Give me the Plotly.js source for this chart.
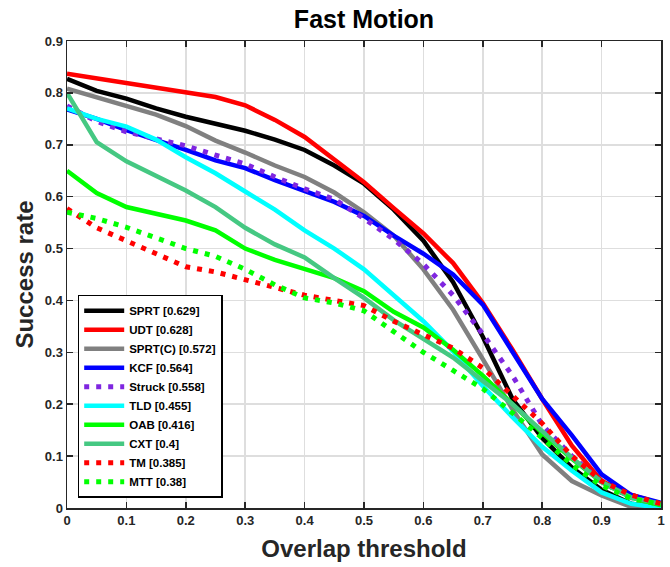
<!DOCTYPE html>
<html>
<head>
<meta charset="utf-8">
<script src="https://cdn.plot.ly/plotly-3.0.1.min.js"></script>
<style>
  html, body { margin: 0; padding: 0; background: #ffffff; }
  #chart { width: 670px; height: 567px; }
</style>
</head>
<body>
<div id="chart"></div>
<script>
// Overlap thresholds
const thresholds = [0, 0.05, 0.1, 0.15, 0.2, 0.25, 0.3, 0.35, 0.4, 0.45, 0.5,
                    0.55, 0.6, 0.65, 0.7, 0.75, 0.8, 0.85, 0.9, 0.95, 1.0];

// Tracker names (legend labels)
const trackerNames = ['SPRT [0.629]', 'UDT [0.628]', 'SPRT(C) [0.572]', 'KCF [0.564]',
                      'Struck [0.558]', 'TLD [0.455]', 'OAB [0.416]', 'CXT [0.4]',
                      'TM [0.385]', 'MTT [0.38]'];

// Success rates
const sprt   = [0.827, 0.804, 0.789, 0.770, 0.754, 0.740, 0.727, 0.710, 0.690, 0.660, 0.625,
                0.575, 0.515, 0.435, 0.330, 0.210, 0.135, 0.078, 0.035, 0.008, 0.000];
const udt    = [0.837, 0.828, 0.820, 0.811, 0.803, 0.792, 0.776, 0.748, 0.715, 0.672, 0.628,
                0.578, 0.529, 0.472, 0.395, 0.305, 0.210, 0.120, 0.052, 0.025, 0.008];
const sprtc  = [0.808, 0.792, 0.776, 0.758, 0.736, 0.708, 0.685, 0.660, 0.638, 0.608, 0.570,
                0.525, 0.460, 0.382, 0.287, 0.190, 0.103, 0.052, 0.024, 0.002, 0.000];
const kcf    = [0.768, 0.750, 0.728, 0.710, 0.690, 0.670, 0.655, 0.632, 0.612, 0.590, 0.563,
                0.525, 0.490, 0.450, 0.392, 0.300, 0.210, 0.140, 0.065, 0.025, 0.010];
const struck = [0.775, 0.745, 0.725, 0.712, 0.698, 0.680, 0.663, 0.638, 0.615, 0.595, 0.558,
                0.518, 0.470, 0.410, 0.335, 0.255, 0.160, 0.100, 0.050, 0.020, 0.005];
const tld    = [0.770, 0.750, 0.735, 0.710, 0.676, 0.645, 0.610, 0.575, 0.535, 0.500, 0.460,
                0.410, 0.360, 0.302, 0.235, 0.175, 0.118, 0.072, 0.030, 0.008, 0.000];
const oab    = [0.650, 0.607, 0.580, 0.568, 0.554, 0.535, 0.500, 0.478, 0.460, 0.443, 0.418,
                0.378, 0.348, 0.305, 0.255, 0.200, 0.145, 0.095, 0.050, 0.020, 0.005];
const cxt    = [0.800, 0.705, 0.668, 0.640, 0.612, 0.580, 0.540, 0.508, 0.483, 0.443, 0.405,
                0.362, 0.325, 0.290, 0.245, 0.200, 0.148, 0.097, 0.050, 0.020, 0.008];
const tm     = [0.577, 0.540, 0.515, 0.490, 0.465, 0.455, 0.440, 0.423, 0.410, 0.400, 0.390,
                0.360, 0.335, 0.308, 0.270, 0.215, 0.163, 0.100, 0.052, 0.025, 0.008];
const mtt    = [0.570, 0.558, 0.541, 0.520, 0.500, 0.485, 0.460, 0.430, 0.405, 0.395, 0.380,
                0.340, 0.300, 0.265, 0.230, 0.183, 0.135, 0.083, 0.043, 0.018, 0.007];

const seriesValues = [sprt, udt, sprtc, kcf, struck, tld, oab, cxt, tm, mtt];
const seriesColors = ['#000000', '#ff0000', '#808080', '#0000ff', '#7f26e0',
                      '#00ffff', '#00ff00', '#45c882', '#ff0000', '#00ff00'];
const seriesDash   = ['solid', 'solid', 'solid', 'solid', '5px,7px',
                      'solid', 'solid', 'solid', '5px,7px', '5px,7px'];

const xTickVals = [0, 0.1, 0.2, 0.3, 0.4, 0.5, 0.6, 0.7, 0.8, 0.9, 1];
const xTickText = ['0', '0.1', '0.2', '0.3', '0.4', '0.5', '0.6', '0.7', '0.8', '0.9', '1'];
const yTickVals = [0, 0.1, 0.2, 0.3, 0.4, 0.5, 0.6, 0.7, 0.8, 0.9];
const yTickText = ['0', '0.1', '0.2', '0.3', '0.4', '0.5', '0.6', '0.7', '0.8', '0.9'];

const traces = seriesValues.map((vals, i) => ({
  type: 'scatter',
  mode: 'lines',
  x: thresholds,
  y: vals,
  name: trackerNames[i],
  line: { color: seriesColors[i], width: seriesDash[i] === 'solid' ? 4.5 : 5, dash: seriesDash[i] },
  hoverinfo: 'skip'
}));

const axisColor = '#262626';
const fontFam = 'Arial, "Liberation Sans", Helvetica, sans-serif';

const layout = {
  width: 670,
  height: 567,
  margin: { l: 67, r: 9, t: 41, b: 59, pad: 0 },
  paper_bgcolor: '#ffffff',
  plot_bgcolor: '#ffffff',
  font: { family: fontFam, color: axisColor },
  title: {
    text: 'Fast Motion',
    font: { family: fontFam, size: 25, weight: 'bold', color: '#000000' },
    xref: 'paper', x: 0.5, xanchor: 'center',
    yref: 'container', y: 1 - 19 / 567, yanchor: 'middle'
  },
  xaxis: {
    range: [0, 1],
    tickvals: xTickVals,
    ticktext: xTickText,
    ticks: 'inside',
    ticklen: 6,
    tickwidth: 1.5,
    tickcolor: axisColor,
    showline: true,
    linecolor: axisColor,
    linewidth: 1.5,
    mirror: 'ticks',
    showgrid: true,
    gridcolor: '#dedede',
    gridwidth: 1.5,
    zeroline: false,
    tickfont: { family: fontFam, size: 13, weight: 'bold', color: axisColor },
    title: {
      text: 'Overlap threshold',
      font: { family: fontFam, size: 24, weight: 'bold', color: axisColor },
      standoff: 13
    }
  },
  yaxis: {
    range: [0, 0.9],
    tickvals: yTickVals,
    ticktext: yTickText,
    ticks: 'inside',
    ticklen: 6,
    tickwidth: 1.5,
    tickcolor: axisColor,
    showline: true,
    linecolor: axisColor,
    linewidth: 1.5,
    mirror: 'ticks',
    showgrid: true,
    gridcolor: '#dedede',
    gridwidth: 1.5,
    zeroline: false,
    tickfont: { family: fontFam, size: 13, weight: 'bold', color: axisColor },
    title: {
      text: 'Success rate',
      font: { family: fontFam, size: 24, weight: 'bold', color: axisColor },
      standoff: 4
    }
  },
  showlegend: true,
  legend: {
    x: 0.018, y: 0.022, xanchor: 'left', yanchor: 'bottom',
    bgcolor: '#ffffff',
    bordercolor: '#000000',
    borderwidth: 1.5,
    font: { family: fontFam, size: 11.5, weight: 'bold', color: '#000000' },
    itemwidth: 40,
    tracegroupgap: 0
  }
};

Plotly.newPlot('chart', traces, layout, { displayModeBar: false, staticPlot: true });
</script>
</body>
</html>
